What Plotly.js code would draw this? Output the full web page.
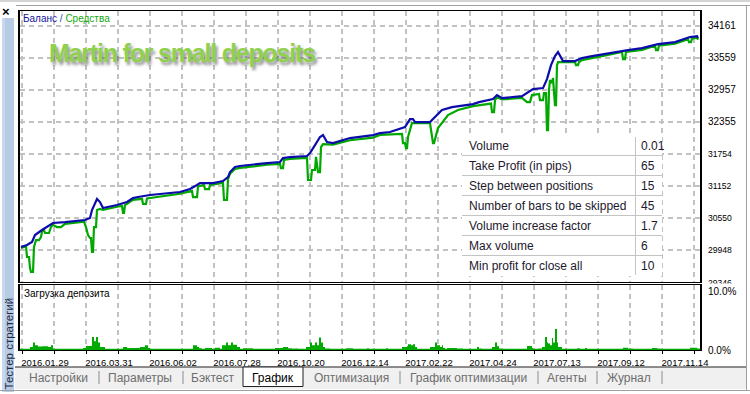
<!DOCTYPE html>
<html><head><meta charset="utf-8">
<script src="https://cdn.plot.ly/plotly-3.0.1.min.js"></script>
<style>html,body{margin:0;padding:0;background:#fff;}#chart{width:750px;height:394px;}</style>
</head><body><div id="chart"></div>
<script>
// ---------- data ----------
const dateLabels = ['2016.01.29','2016.03.31','2016.06.02','2016.07.28','2016.10.20','2016.12.14','2017.02.22','2017.04.24','2017.07.13','2017.09.12','2017.11.14'];
const balanceLevels = [29346,29948,30550,31152,31754,32355,32957,33559,34161];
const loadLevels = [0, 10];
const loadLevelText = ['0.0%','10.0%'];

const balanceBar = [1,7,12,15,22,30,33,45,65,70,72,77,80,83,97,107,113,118,130,160,170,177,180,193,203,208,210,215,220,247,260,263,270,287,290,295,300,303,307,313,330,353,360,370,385,390,393,395,410,413,418,422,432,440,453,459,473,477,482,502,508,513,523,527,531,535,538,543,555,562,572,588,608,622,638,655,670,677,678];
const balanceValue = [30004,30041,30098,30229,30323,30417,30455,30470,30511,30549,30699,30906,30849,30736,30793,30849,30924,30943,30981,31037,31093,31169,31206,31206,31244,31319,31413,31507,31526,31582,31601,31676,31695,31714,31770,31920,32071,32108,31977,31958,32052,32108,32146,32165,32258,32409,32409,32352,32352,32409,32503,32578,32634,32653,32691,32728,32785,32860,32803,32841,32916,32972,32991,33160,33423,33593,33668,33499,33499,33555,33593,33649,33705,33743,33818,33856,33950,33968,33931];

const equityBar = [1,6,7,9,10,11,13,14,16,19,21,22,24,25,29,31,33,37,41,45,64,66,68,70,71,72,73,74,76,77,80,83,97,102,103,104,105,113,122,123,126,127,160,172,173,177,178,184,185,189,190,203,204,207,208,210,215,220,247,260,261,263,264,270,287,288,291,292,295,296,298,300,301,303,313,330,353,360,382,383,385,386,387,388,390,392,410,413,414,418,428,438,453,471,472,474,475,477,482,502,507,510,512,519,520,523,524,526,527,528,529,530,532,533,535,536,537,538,555,556,558,559,562,572,588,602,603,605,606,622,635,636,638,639,655,668,669,671,672,677,678];
const equityValue = [29985,30020,29816,29816,29609,29534,29534,30004,30135,30135,30192,30290,30323,30267,30267,30380,30420,30379,30379,30440,30480,30379,30229,30173,30173,29910,29910,30379,30379,30700,30718,30700,30760,30775,30643,30643,30790,30890,30910,30812,30812,30915,31005,31060,30943,30943,31140,31170,31093,31093,31170,31210,30887,30887,31280,31380,31470,31490,31550,31565,31488,31488,31640,31660,31680,31263,31263,31451,31451,31700,31413,31413,31883,31939,31930,32010,32060,32110,32130,31958,31958,31864,31864,32071,32202,32334,32334,31958,31958,32240,32484,32578,32653,32700,32540,32540,32766,32820,32780,32805,32728,32728,32860,32880,32766,32766,32897,32897,32202,32202,32954,33142,33085,33179,32672,32672,33423,33480,33480,33423,33423,33480,33517,33560,33615,33670,33536,33536,33670,33710,33790,33705,33705,33790,33825,33910,33856,33856,33920,33940,33900];

const loadBar = [0,10,13,15,18,22,28,31,33,63,66,72,74,76,78,80,85,103,107,120,125,128,130,173,177,179,182,185,192,195,200,202,206,208,211,213,217,220,223,233,255,263,268,272,273,278,286,290,292,295,297,299,301,303,305,310,326,333,347,349,366,368,382,387,388,391,393,395,397,410,415,417,420,422,423,425,427,437,443,457,459,462,472,475,477,479,481,507,512,513,518,522,525,527,528,530,532,533,535,537,538,542,557,560,565,567,603,608,613,632,637,640,653,660,670,677,680];
const loadPct = [0.2,0.5,1.3,0.8,0.6,0.65,0.5,0.8,0.2,0.35,0.7,2.2,1.5,2.2,1.3,0.5,0.2,0.5,0.35,0.5,0.8,0.35,0.2,0.8,0.5,0.3,0.2,0.35,0.2,0.4,0.2,0.8,1.3,0.8,1.3,0.9,0.5,0.2,0.3,0.2,0.35,0.5,0.3,0.2,0.25,0.2,0.5,1.3,0.8,1.3,0.8,2.15,1.3,0.5,0.25,0.2,0.3,0.2,0.3,0.2,0.3,0.2,0.5,0.65,1.0,0.8,1.0,0.5,0.2,0.5,1.3,0.8,0.5,0.8,0.35,0.2,0.35,0.25,0.2,0.5,0.25,0.2,0.5,1.3,0.65,0.25,0.2,0.7,0.35,0.2,0.25,0.5,2.2,1.3,1.1,0.8,2.05,1.3,3.6,1.3,0.5,0.2,0.3,0.2,0.35,0.2,0.4,0.25,0.2,0.35,0.25,0.2,0.2,0.2,0.4,0.25,0.25];

const paramNames = ['Volume','Take Profit (in pips)','Step between positions','Number of bars to be skipped','Volume increase factor','Max volume','Min profit for close all'];
const paramValues = ['0.01','65','15','45','1.7','6','10'];

const tabNames = ['Настройки','Параметры','Бэктест','График','Оптимизация','График оптимизации','Агенты','Журнал'];

// ---------- layout helpers (pixel geometry) ----------
const W = 750, H = 394;
const px = x => x / W;
const py = y => 1 - y / H;
const FONT = 'Liberation Sans, Arial, sans-serif';

const xRange = [0, 680];
const gridX = []; for (let v = 2; v <= 680; v += 32) gridX.push(v);
const dateTickVals = gridX;
const dateTickText = gridX.map((v, i) => (i % 2 === 0 ? dateLabels[i / 2] || '' : ''));

const yTickText = balanceLevels.map(v => {
  const big = v >= 32355;
  return '<span style="font-size:' + (big ? '10px' : '8.6px') + '">' + v + '</span>';
});

const traces = [
  {x: equityBar, y: equityValue, type: 'scatter', mode: 'lines', xaxis: 'x', yaxis: 'y',
   line: {color: '#00a800', width: 2.2, shape: 'linear'}, hoverinfo: 'skip'},
  {x: balanceBar, y: balanceValue, type: 'scatter', mode: 'lines', xaxis: 'x', yaxis: 'y',
   line: {color: '#0c0cab', width: 2.2, shape: 'linear'}, hoverinfo: 'skip'},
  {x: loadBar, y: loadPct, type: 'scatter', mode: 'lines', xaxis: 'x2', yaxis: 'y2',
   line: {color: '#00aa00', width: 0, shape: 'hv'}, fill: 'tozeroy', fillcolor: '#00aa00', hoverinfo: 'skip'}
];

const shapes = [];
const annotations = [];

// window chrome
shapes.push({type: 'line', xref: 'paper', yref: 'paper', x0: 0, x1: 1, y0: py(1), y1: py(1), line: {color: '#a8a8a8', width: 1}, layer: 'above'});
shapes.push({type: 'line', xref: 'paper', yref: 'paper', x0: px(16), x1: 1, y0: py(5.5), y1: py(5.5), line: {color: '#a0a0a0', width: 1}, layer: 'above'});
shapes.push({type: 'line', xref: 'paper', yref: 'paper', x0: px(746.5), x1: px(746.5), y0: py(5.5), y1: py(390), line: {color: '#a0a0a0', width: 1}, layer: 'above'});
// left side panel
shapes.push({type: 'rect', xref: 'paper', yref: 'paper', x0: px(2), x1: px(14), y0: py(18), y1: py(392), fillcolor: '#b7cbe4', line: {width: 0}, layer: 'above'});
shapes.push({type: 'rect', xref: 'paper', yref: 'paper', x0: px(2), x1: px(5), y0: py(18), y1: py(392), fillcolor: '#c9d8ec', line: {width: 0}, layer: 'above'});
annotations.push({xref: 'paper', yref: 'paper', x: px(6), y: py(11), text: '<b>×</b>', showarrow: false, font: {family: FONT, size: 13, color: '#000'}, xanchor: 'center', yanchor: 'middle'});
annotations.push({xref: 'paper', yref: 'paper', x: px(8.5), y: py(344), text: 'Тестер стратегий', textangle: -90, showarrow: false, font: {family: FONT, size: 11.5, color: '#1e2a44'}, xanchor: 'center', yanchor: 'middle'});

// tab bar
shapes.push({type: 'rect', xref: 'paper', yref: 'paper', x0: px(15), x1: px(746), y0: py(367), y1: py(389), fillcolor: '#f0f0f0', line: {width: 0}, layer: 'above'});
shapes.push({type: 'line', xref: 'paper', yref: 'paper', x0: px(15), x1: px(746), y0: py(367), y1: py(367), line: {color: '#202020', width: 1}, layer: 'above'});
shapes.push({type: 'line', xref: 'paper', yref: 'paper', x0: px(0), x1: px(750), y0: py(390.5), y1: py(390.5), line: {color: '#a0a0a0', width: 1}, layer: 'above'});
shapes.push({type: 'rect', xref: 'paper', yref: 'paper', x0: px(243), x1: px(303), y0: py(367), y1: py(386.5), fillcolor: '#ffffff', line: {color: '#202020', width: 1}, layer: 'above'});
const tabCenters = [58, 140, 213, 273, 351, 468, 567, 629];
const tabSeps = [99, 183, 400, 538, 597, 662];
tabNames.forEach((t, i) => {
  annotations.push({xref: 'paper', yref: 'paper', x: px(tabCenters[i]), y: py(377.5), text: t, showarrow: false,
    font: {family: FONT, size: 12, color: i === 3 ? '#000000' : '#6e6e6e'}, xanchor: 'center', yanchor: 'middle'});
});
tabSeps.forEach(s => shapes.push({type: 'line', xref: 'paper', yref: 'paper', x0: px(s), x1: px(s), y0: py(371), y1: py(384), line: {color: '#8c8c8c', width: 1}, layer: 'above'}));

// hide lower half of the bottom balance label (as in the reference)
shapes.push({type: 'rect', xref: 'paper', yref: 'paper', x0: px(702), x1: px(745), y0: py(283.6), y1: py(286.6), fillcolor: '#ffffff', line: {width: 0}, layer: 'above'});

// parameter table
const tblL = 462, tblR = 662, tblSep = 635.5, rowH = 20, row0 = 146;
shapes.push({type: 'rect', xref: 'paper', yref: 'paper', x0: px(tblL), x1: px(tblR), y0: py(136), y1: py(276), fillcolor: '#ffffff', line: {width: 0}, layer: 'above'});
for (let i = 0; i < paramNames.length - 1; i++) {
  const yy = row0 + rowH * i + 9.5;
  shapes.push({type: 'line', xref: 'paper', yref: 'paper', x0: px(tblL), x1: px(tblR), y0: py(yy), y1: py(yy), line: {color: '#c4c4c4', width: 1}, layer: 'above'});
}
shapes.push({type: 'line', xref: 'paper', yref: 'paper', x0: px(tblSep), x1: px(tblSep), y0: py(137), y1: py(275), line: {color: '#c4c4c4', width: 1}, layer: 'above'});
paramNames.forEach((n, i) => {
  annotations.push({xref: 'paper', yref: 'paper', x: px(467), y: py(row0 + rowH * i), text: n, showarrow: false, font: {family: FONT, size: 12, color: '#22182e'}, xanchor: 'left', yanchor: 'middle'});
  annotations.push({xref: 'paper', yref: 'paper', x: px(639), y: py(row0 + rowH * i), text: paramValues[i], showarrow: false, font: {family: FONT, size: 12, color: '#22182e'}, xanchor: 'left', yanchor: 'middle'});
});

// chart captions
annotations.push({xref: 'paper', yref: 'paper', x: px(21), y: py(19), xanchor: 'left', yanchor: 'middle', showarrow: false,
  text: '<span style="color:#1414a0">Баланс</span><span style="color:#1a4ab8"> / </span><span style="color:#10a810">Средства</span>',
  font: {family: FONT, size: 10}});
annotations.push({xref: 'paper', yref: 'paper', x: px(22), y: py(293), xanchor: 'left', yanchor: 'middle', showarrow: false,
  text: 'Загрузка депозита', font: {family: FONT, size: 10, color: '#000'}});
annotations.push({xref: 'paper', yref: 'paper', x: px(182), y: py(53), xanchor: 'center', yanchor: 'middle', showarrow: false,
  text: '<span style="letter-spacing:-1.2px">Martin for small deposits</span>',
  font: {family: 'Liberation Sans, Arial, sans-serif', size: 25, weight: 'bold', color: '#8fd14f', shadow: '2px 3px 3px rgba(60,60,60,0.55)'}});

const GRIDC = '#c2c2c2', GRIDD = '5px,4px', GRIDW = 1.5;

const layout = {
  width: W, height: H,
  margin: {l: 0, r: 0, t: 0, b: 0, pad: 0},
  paper_bgcolor: '#ffffff', plot_bgcolor: '#ffffff',
  showlegend: false,
  xaxis: {domain: [px(20), px(700)], range: xRange, anchor: 'y', tickmode: 'array', tickvals: gridX,
    showticklabels: false, showgrid: true, gridcolor: GRIDC, griddash: GRIDD, gridwidth: GRIDW, zeroline: false,
    showline: true, linecolor: '#000', linewidth: 1, mirror: true},
  yaxis: {domain: [py(282), py(11)], range: [29346, 34440], anchor: 'x', side: 'right', tickmode: 'array',
    tickvals: balanceLevels, ticktext: yTickText, ticklabelstandoff: 4, showgrid: true, gridcolor: GRIDC, griddash: GRIDD, gridwidth: GRIDW, zeroline: false,
    showline: true, linecolor: '#000', linewidth: 2, mirror: true,
    tickfont: {family: FONT, size: 10, color: '#000'}},
  xaxis2: {domain: [px(20), px(700)], range: xRange, anchor: 'y2', tickmode: 'array', tickvals: dateTickVals,
    ticktext: dateTickText, ticks: 'outside', ticklen: 3, tickcolor: '#000', ticklabelshift: 23, ticklabelstandoff: 1,
    showgrid: true, gridcolor: GRIDC, griddash: GRIDD, gridwidth: GRIDW, zeroline: false, showline: true, linecolor: '#000', linewidth: 1, mirror: true,
    tickfont: {family: FONT, size: 9.5, color: '#000'}},
  yaxis2: {domain: [py(350), py(285)], range: [0, 11.1], anchor: 'x2', side: 'right', tickmode: 'array',
    tickvals: loadLevels, ticktext: loadLevelText, ticklabelstandoff: 4, showgrid: false, zeroline: false,
    showline: true, linecolor: '#000', linewidth: 2, mirror: true,
    tickfont: {family: FONT, size: 10, color: '#000'}},
  shapes: shapes,
  annotations: annotations
};

Plotly.newPlot('chart', traces, layout, {staticPlot: true});
</script>
</body></html>
